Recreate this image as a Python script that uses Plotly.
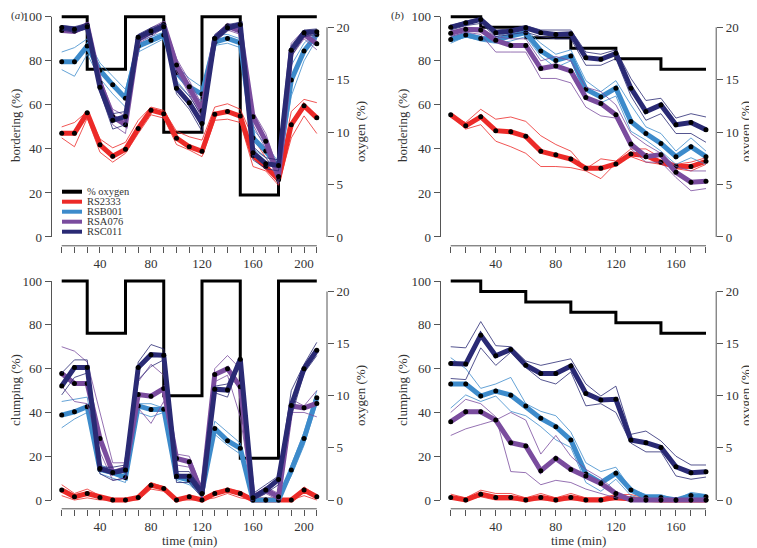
import plotly.graph_objects as go

# ---------------- data ----------------
t_a = list(range(10, 211, 10))
t_b = list(range(10, 181, 10))

oxy_a_t = [10, 30, 60, 90, 120, 150, 180, 210]
oxy_a = [21, 16, 21, 10, 21, 4, 21, 21]
oxy_b_t = [10, 30, 60, 90, 120, 150, 180]
oxy_b = [21, 20, 19, 18, 17, 16, 16]

# panel (a) bordering
red_a_top = [47.1, 47.1, 56.4, 41.9, 36.7, 39.8, 49.3, 57.6, 56.0, 44.9, 41.0, 38.9, 55.8, 57.0, 54.9, 37, 32, 26, 51, 59.6, 54.1]
red_a_top_hi = [50, 52, 57, 44.5, 40.5, 43, 53, 59, 57.5, 48, 45.5, 44, 59, 60.5, 58, 45, 36, 28, 57, 62.5, 61]
red_a_top_lo = [45, 41, 54, 38.5, 34, 38, 47, 55.5, 54, 42, 39.5, 36.5, 53, 53.5, 52, 32, 30, 23.5, 45, 55, 47]
blue_a_top = [79.6, 79.6, 86.7, 75.7, 69.1, 63.0, 86.7, 89.4, 91.7, 74.7, 68.2, 64.9, 88.5, 90.2, 88.2, 45, 39, 31.7, 71.3, 84.5, 92]
blue_a_top_hi = [84, 86, 90, 79, 73, 67, 89, 91, 93, 78, 72, 68, 91.5, 92, 90, 49, 42, 34, 78, 88, 93]
blue_a_top_lo = [76, 73, 83, 72, 65, 59, 84, 87, 90, 71, 64, 62, 87, 88, 86, 40, 36, 29, 64, 80, 90]
purple_a_top = [93.8, 93.5, 96.2, 70.1, 54.6, 51.0, 89.7, 92.8, 96.5, 78.1, 68.2, 57.3, 90.2, 95.8, 93.5, 54.6, 43.5, 27.5, 84.8, 92, 87.8]
purple_a_top_hi = [94.5, 94.5, 97.5, 72, 58, 55, 91, 95, 98, 81, 71, 60, 91.5, 97, 95, 57, 47, 30, 88, 94, 90]
purple_a_top_lo = [93, 92.5, 95, 67, 51, 47, 88, 91, 95, 75, 65, 54, 89, 94, 92, 51, 40, 24, 82, 90, 85]
navy_a_top = [95.2, 94.4, 95.5, 68, 53, 54.7, 90.7, 93.5, 95.5, 67.6, 61, 51.6, 90.2, 95, 96.5, 38.3, 33.3, 32.5, 84.8, 92.8, 93.2]
navy_a_top_hi = [96, 95.5, 97, 70, 56, 57, 92, 95, 97, 70, 64, 55, 92, 96.5, 97.5, 41, 36, 35, 87, 94, 94.5]
navy_a_top_lo = [94, 93, 94.5, 66, 49, 51, 89, 92, 94.5, 65, 58, 48, 88.5, 93.5, 96, 35, 31, 30, 82, 91, 92]

# panel (b) bordering
red_b_top = [55.5, 50.5, 54.6, 48.3, 47.8, 45.7, 38.9, 37.4, 35.4, 31.2, 31.2, 33.2, 37.7, 37, 33.9, 32.1, 32, 34.4]
red_b_top_hi = [55, 52, 58, 53.5, 54.5, 52.5, 46, 42, 39, 31, 35.5, 34.5, 40, 40, 36, 33, 34, 36]
red_b_top_lo = [55, 49, 51, 43.5, 41, 38, 32, 32, 31.5, 30, 26.5, 33.5, 36.5, 34, 33, 31, 30, 33]
blue_b_top = [89.7, 91.7, 90.2, 89.3, 91.3, 92.8, 84.5, 80.2, 82.2, 67.1, 63.6, 67.6, 52.5, 47, 42.5, 36.5, 41, 36.5]
blue_b_top_hi = [91, 93, 91, 91, 93, 94, 88, 83, 85, 71, 66, 71, 60, 50, 47, 39, 45, 39]
blue_b_top_lo = [88, 91, 89, 88, 89, 91, 82, 77, 80, 64, 61, 64, 48, 44, 39, 33, 36, 33]
purple_b_top = [92.5, 94.3, 94, 89.3, 87, 87, 76.5, 77.7, 75.4, 63.3, 60.6, 55.5, 42.2, 36.5, 37.4, 29.4, 24.9, 25.3]
purple_b_top_hi = [93.5, 95, 95, 91, 90, 90, 80, 82, 80, 68, 66, 60, 47, 42, 38, 32, 30, 30]
purple_b_top_lo = [91, 93, 92, 84, 84, 84, 72, 72, 70, 59, 55, 54, 40, 34, 34, 27, 21, 22]
navy_b_top = [95.3, 97.3, 98.8, 92.8, 93.5, 95, 92.8, 92, 92.3, 81.4, 80.7, 83.4, 67.6, 57, 60, 51, 52, 48.7]
navy_b_top_hi = [96, 98, 99.5, 94, 94.5, 96, 94, 94, 94, 84, 83, 85, 72, 62, 63, 54, 56, 54.5]
navy_b_top_lo = [94, 96, 97, 91, 92, 93, 91, 90, 90, 78, 78, 81, 64, 53, 56, 47, 47, 43]

# panel (a) clumping
red_a_bot = [4.6, 1.5, 3, 1.2, 0, 0, 1.2, 6.8, 5.3, 0, 1.5, 0, 3, 4.6, 3, 0, 0, 0, 0, 4.6, 1.5]
red_a_bot_hi = [7, 3, 5, 2, 0, 0, 2, 8, 6, 0, 2, 0, 4, 5, 4, 0, 0, 0, 0, 6, 2]
red_a_bot_lo = [2, 0, 1, 0, 0, 0, 0, 5, 4, 0, 0, 0, 1, 3, 1, 0, 0, 0, 0, 2, 0]
blue_a_bot = [38.8, 40.3, 42.6, 14, 12.5, 10.3, 43, 41.3, 41.5, 10.6, 9.1, 3.8, 32.7, 27.1, 23.6, 0, 0, 0, 13.7, 28.1, 46.7]
blue_a_bot_hi = [45, 46, 47, 16, 14, 12, 44, 44, 42, 12, 11, 5, 36, 31, 26, 0, 0, 0, 16, 31, 50]
blue_a_bot_lo = [33, 37, 40, 12, 10, 8, 40, 38, 40, 9, 7, 2, 30, 25, 21, 0, 0, 0, 11, 25, 44]
purple_a_bot = [57.8, 53.2, 53.2, 28.1, 12.5, 14.4, 48.2, 47.4, 50.9, 19, 17.5, 3, 57.3, 60, 51.7, 1.5, 4.6, 1.5, 42.9, 42.1, 44.1]
purple_a_bot_hi = [70, 68, 63, 40, 17, 17, 54, 62, 57, 21, 20, 5, 60, 66, 60, 2, 6, 3, 46, 43, 50]
purple_a_bot_lo = [52, 45, 44, 22, 9, 10, 42, 35, 45, 16, 15, 1, 54, 57, 38, 0, 3, 0, 40, 40, 38]
navy_a_bot = [52.1, 60.5, 60.5, 14.4, 12.6, 13.7, 60.5, 66.4, 66.1, 10.9, 10.9, 3.0, 50.6, 50.2, 64.3, 1.1, 4.6, 9.4, 43.2, 60, 68.4]
navy_a_bot_hi = [58, 64, 64, 15, 15, 16, 63, 71, 69, 13, 13, 5, 52, 53, 65, 3, 7, 11, 50, 62, 72]
navy_a_bot_lo = [48, 56, 58, 12, 9, 10, 55, 61, 64, 8, 8, 1, 49, 47, 63, 0, 3, 7, 38, 58, 66]

# panel (b) clumping
red_b_bot = [1.2, 0, 2.7, 1.2, 1.2, 0, 1.2, 0, 1.2, 0, 0, 1.2, 0.5, 0, 0, 0, 0, 0]
red_b_bot_hi = [2.7, 1, 4.5, 3, 3, 1, 3, 1, 3, 1, 1, 2.5, 2.5, 1, 1, 0.5, 0.5, 0.5]
red_b_bot_lo = [0.5, 0, 1.5, 0, 0, 0, 0, 0, 0, 0, 0, 0, 0, 0, 0, 0, 0, 0]
blue_b_bot = [53, 53, 47.5, 49.8, 47.9, 42.9, 37.3, 33.5, 27.4, 11.9, 7.9, 12.2, 4.6, 1.2, 1.2, 0, 2.1, 1.5]
blue_b_bot_hi = [65, 60, 51, 53, 56, 44, 40.5, 38.5, 31, 17, 13, 15, 5, 2.5, 2.5, 0, 3.5, 2.5]
blue_b_bot_lo = [42, 48, 45, 47.5, 40.5, 38.5, 33.5, 27.5, 24, 8, 4, 9.5, 2, 0, 0, 0, 1, 0.5]
purple_b_bot = [35.8, 40.3, 40.3, 36.5, 26.2, 24.7, 13.4, 19, 14, 11, 7.6, 3, 0, 0, 0, 0, 0, 0]
purple_b_bot_hi = [40, 46, 44, 38, 13, 12.5, 7, 9, 8, 5, 3, 1, 0, 0, 0, 0, 0, 0]
purple_b_bot_lo = [29.5, 32.5, 34.5, 36.5, 40, 36.5, 21, 29.5, 20, 14, 10, 4, 0, 0, 0, 0, 0, 0]
navy_b_bot = [62.4, 62.1, 75.3, 65.9, 68.8, 61.6, 57.8, 57.8, 61.2, 48.7, 45.7, 46, 27.4, 26.2, 24, 15.2, 12.5, 12.9]
navy_b_bot_hi = [70, 69.5, 81.5, 70.5, 70, 63.5, 61.5, 63, 64.5, 53, 47.5, 52, 30, 31.5, 27, 20, 16, 16]
navy_b_bot_lo = [55.5, 55, 69.5, 61.5, 67.5, 60.5, 55, 53, 58.5, 43, 44, 40, 26, 22, 22, 11, 9.5, 10.5]

strain_names = ["RS2333", "RSB001", "RSA076", "RSC011"]
pct_ticks = [0, 20, 40, 60, 80, 100]
oxy_ticks = [0, 5, 10, 15, 20]

# ---------------- styling ----------------
# page body has an 8px default margin; figure is sized to fit the window
OFF = 8
W, H = 757 - OFF, 548 - OFF
FONT = '"Liberation Serif", "Times New Roman", serif'
COL = {"RS2333": "#EC2A28", "RSB001": "#3D8BCB", "RSA076": "#7A4C9E", "RSC011": "#2A2A74"}
AX = "#555555"
TXT = "#333333"


def px(x):
    return min(1.0, max(0.0, (x - OFF) / W))


def py(y):
    return min(1.0, max(0.0, 1 - (y - OFF) / H))


XL = [px(51.5), px(327.0)]
XR = [px(440.5), px(716.2)]
YT = [py(245.8), py(8.0)]
YB = [py(508.8), py(272.3)]
PCT_RANGE = [-4, 104]
OXY_RANGE = [-4 * 21 / 100, 104 * 21 / 100]

panels = [
    dict(x="x", yo="y", yp="y2", dx=XL, dy=YT, xr=[2, 218], t=t_a, ot=oxy_a_t, ov=oxy_a,
         series={"RS2333": (red_a_top, [red_a_top_hi, red_a_top_lo]),
                 "RSB001": (blue_a_top, [blue_a_top_hi, blue_a_top_lo]),
                 "RSA076": (purple_a_top, [purple_a_top_hi, purple_a_top_lo]),
                 "RSC011": (navy_a_top, [navy_a_top_hi, navy_a_top_lo])}),
    dict(x="x2", yo="y3", yp="y4", dx=XR, dy=YT, xr=[3.2, 186.8], t=t_b, ot=oxy_b_t, ov=oxy_b,
         series={"RS2333": (red_b_top, [red_b_top_hi, red_b_top_lo]),
                 "RSB001": (blue_b_top, [blue_b_top_hi, blue_b_top_lo]),
                 "RSA076": (purple_b_top, [purple_b_top_hi, purple_b_top_lo]),
                 "RSC011": (navy_b_top, [navy_b_top_hi, navy_b_top_lo])}),
    dict(x="x3", yo="y5", yp="y6", dx=XL, dy=YB, xr=[2, 218], t=t_a, ot=oxy_a_t, ov=oxy_a,
         series={"RS2333": (red_a_bot, [red_a_bot_hi, red_a_bot_lo]),
                 "RSB001": (blue_a_bot, [blue_a_bot_hi, blue_a_bot_lo]),
                 "RSA076": (purple_a_bot, [purple_a_bot_hi, purple_a_bot_lo]),
                 "RSC011": (navy_a_bot, [navy_a_bot_hi, navy_a_bot_lo])}),
    dict(x="x4", yo="y7", yp="y8", dx=XR, dy=YB, xr=[3.2, 186.8], t=t_b, ot=oxy_b_t, ov=oxy_b,
         series={"RS2333": (red_b_bot, [red_b_bot_hi, red_b_bot_lo]),
                 "RSB001": (blue_b_bot, [blue_b_bot_hi, blue_b_bot_lo]),
                 "RSA076": (purple_b_bot, [purple_b_bot_hi, purple_b_bot_lo]),
                 "RSC011": (navy_b_bot, [navy_b_bot_hi, navy_b_bot_lo])}),
]


def key(ax):
    return ("xaxis" if ax[0] == "x" else "yaxis") + ax[1:]


fig = go.Figure()
layout = dict(width=W, height=H, autosize=False, margin=dict(l=0, r=0, t=0, b=0),
              paper_bgcolor="white", plot_bgcolor="white", showlegend=False,
              font=dict(family=FONT, size=13, color=TXT))
shapes = []
annotations = []
tickfont = dict(family=FONT, size=13, color=TXT)

for p in panels:
    # oxygen step line (base axis, drawn beneath)
    fig.add_trace(go.Scatter(x=p["ot"], y=p["ov"], xaxis=p["x"], yaxis=p["yo"], mode="lines",
                             line=dict(color="black", width=3, shape="hv"), hoverinfo="skip"))
    for name in strain_names:
        mean, reps = p["series"][name]
        for r in reps:
            fig.add_trace(go.Scatter(x=p["t"], y=r, xaxis=p["x"], yaxis=p["yp"], mode="lines",
                                     line=dict(color=COL[name], width=0.8)))
        fig.add_trace(go.Scatter(x=p["t"], y=mean, xaxis=p["x"], yaxis=p["yp"], mode="lines+markers",
                                 line=dict(color=COL[name], width=5),
                                 marker=dict(color="black", size=5), name=name))
    tv = p["t"]
    layout[key(p["x"])] = dict(domain=p["dx"], range=p["xr"], anchor=p["yo"], showgrid=False,
                               zeroline=False, showline=False, ticks="outside", ticklen=6,
                               tickcolor=AX, tickwidth=1, tickvals=tv,
                               ticktext=[str(v) if v % 40 == 0 else "" for v in tv],
                               tickfont=tickfont, fixedrange=True)
    layout[key(p["yo"])] = dict(domain=p["dy"], range=OXY_RANGE, anchor=p["x"], side="right",
                                showgrid=False, zeroline=False, showline=False, ticks="outside",
                                ticklen=6, tickcolor=AX, tickvals=oxy_ticks, tickfont=tickfont)
    layout[key(p["yp"])] = dict(range=PCT_RANGE, overlaying=p["yo"], anchor=p["x"], side="left",
                                showgrid=False, zeroline=False, showline=False, ticks="outside",
                                ticklen=6, tickcolor=AX, tickvals=pct_ticks, tickfont=tickfont)
    # R-style axis lines spanning the tick range only
    shapes.append(dict(type="line", xref=p["x"] + " domain", yref=p["yp"], x0=0, x1=0, y0=0, y1=100,
                       line=dict(color=AX, width=1)))
    shapes.append(dict(type="line", xref=p["x"] + " domain", yref=p["yo"], x0=1, x1=1, y0=0, y1=20,
                       line=dict(color=AX, width=1)))
    shapes.append(dict(type="line", xref=p["x"], yref=p["yo"] + " domain", x0=tv[0], x1=tv[-1], y0=0, y1=0,
                       line=dict(color=AX, width=1)))


def ann(text, x, y, angle=0, size=13, xanchor="center"):
    annotations.append(dict(text=text, x=px(x), y=py(y), xref="paper", yref="paper", showarrow=False,
                            textangle=angle, xanchor=xanchor, yanchor="middle",
                            font=dict(family=FONT, size=size, color=TXT)))


ann("(<i>a</i>)", 8.5, 15.5, size=11, xanchor="left")
ann("(<i>b</i>)", 397, 15.5, size=11)
ann("bordering (%)", 15, 126, -90)
ann("bordering (%)", 402, 126, -90)
ann("clumping (%)", 15, 390, -90)
ann("clumping (%)", 402, 390, -90)
for xx in (360, 745):
    ann("oxygen (%)", xx, 132, -90)
    ann("oxygen (%)", xx, 396, -90)
ann("time (min)", 189, 540)
ann("time (min)", 578, 540)

# legend (panel a, top)
legend_items = [("% oxygen", "black")] + [(n, COL[n]) for n in strain_names]
for i, (lab, c) in enumerate(legend_items):
    yy = 191.7 + 10 * i
    shapes.append(dict(type="line", xref="paper", yref="paper", x0=px(62), x1=px(82), y0=py(yy), y1=py(yy),
                       line=dict(color=c, width=4)))
    ann(lab, 85, yy, size=10.5, xanchor="left")

layout["shapes"] = shapes
layout["annotations"] = annotations
fig.update_layout(**layout)
fig.write_html("out.html")
